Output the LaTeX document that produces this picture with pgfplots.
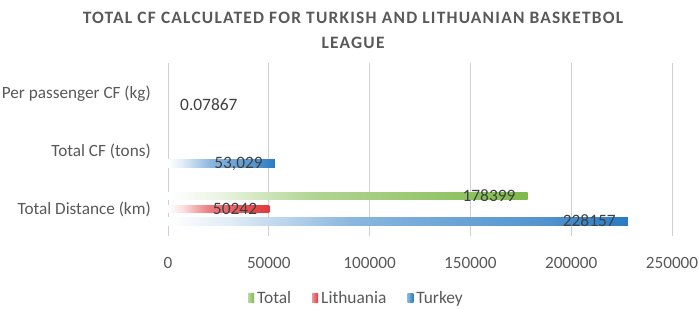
\documentclass[border=0pt]{standalone}
\usepackage{fontspec}
\setmainfont{Carlito}
\newfontfamily\titlefont[LetterSpace=7]{Carlito}
\usepackage{pgfplots}
\pgfplotsset{compat=1.18}
\usepackage{pgfplotstable}
\definecolor{cgreen}{HTML}{7DB94A}
\definecolor{cred}{HTML}{E2383D}
\definecolor{cblue}{HTML}{2A7BC4}
\definecolor{titlegray}{HTML}{595959}
\definecolor{labelgray}{HTML}{404040}
\definecolor{gridgray}{HTML}{D0D0D0}
\pgfdeclarehorizontalshading{gshade}{100bp}{color(0bp)=(white); color(25bp)=(white); color(32bp)=(cgreen!15!white); color(45bp)=(cgreen!60!white); color(65bp)=(cgreen!85!white); color(75bp)=(cgreen); color(100bp)=(cgreen)}
\pgfdeclarehorizontalshading{rshade}{100bp}{color(0bp)=(white); color(25bp)=(white); color(32bp)=(cred!15!white); color(45bp)=(cred!65!white); color(65bp)=(cred!90!white); color(75bp)=(cred); color(100bp)=(cred)}
\pgfdeclarehorizontalshading{bshade}{100bp}{color(0bp)=(white); color(25bp)=(white); color(32bp)=(cblue!15!white); color(45bp)=(cblue!55!white); color(65bp)=(cblue!80!white); color(75bp)=(cblue); color(100bp)=(cblue)}

\pgfplotstableread{
x y label
178399 0 178399
}\totaldata
\pgfplotstableread{
x y label
50242 0 50242
}\lithdata
\pgfplotstableread{
x y label
228157 0 228157
}\turkdist
\pgfplotstableread{
x y label
53029 1 53,029
}\turkcf
\pgfplotstableread{
x y label
0.07867 2 0.07867
}\turkpp

\begin{document}
\begin{tikzpicture}
\useasboundingbox (0,0) rectangle (699pt,308pt);
\node[anchor=base, text=titlegray, font=\titlefont\bfseries\fontsize{17.4}{20}\selectfont, inner sep=0pt] at (353pt,{308pt-24pt}) {TOTAL CF CALCULATED FOR TURKISH AND LITHUANIAN BASKETBOL};
\node[anchor=base, text=titlegray, font=\titlefont\bfseries\fontsize{17.4}{20}\selectfont, inner sep=0pt] at (353pt,{308pt-49pt}) {LEAGUE};
\begin{axis}[
  at={(168pt,72pt)}, anchor=south west,
  scale only axis, width=504pt, height=173pt,
  xmin=0, xmax=250000, ymin=-0.466, ymax=2.517,
  xtick={0,50000,100000,150000,200000,250000},
  ytick={0,1,2},
  yticklabels={Total Distance (km), Total CF (tons), Per passenger CF (kg)},
  scaled x ticks=false,
  xticklabel style={/pgf/number format/fixed, /pgf/number format/1000 sep={}, /pgf/number format/assume math mode=true},
  xmajorgrids,
  major grid style={draw=gridgray, line width=0.9pt},
  axis line style={draw=none},
  major tick length=0pt,
  tick label style={font=\fontsize{17.2}{20}\selectfont, text=titlegray, inner sep=0pt},
  xticklabel style={anchor=base, yshift=-32pt},
  yticklabel style={anchor=base east, xshift=-17pt, yshift=-5.5pt},
  xbar, bar width=7.5pt,
  nodes near coords={\pgfplotspointmeta},
  point meta=explicit symbolic,
  every node near coord/.append style={anchor=base east, xshift=-12pt, yshift=-5.5pt, inner sep=0pt, font=\fontsize{17.4}{20}\selectfont, text=labelgray},
  legend style={at={(0.375,-0.36)}, anchor=center, draw=none, fill=none, legend columns=3,
     font=\fontsize{17.4}{20}\selectfont, text=titlegray,
     /tikz/every even column/.append style={column sep=18pt},
     nodes={inner ysep=1.5pt, inner xsep=3pt}},
]
\addplot[draw=none, shading=gshade, bar shift=13pt,
  legend image code/.code={\shade[left color=cgreen!55!white, right color=cgreen, draw=none] (0pt,-4.5pt) rectangle (6pt,4.5pt);}]
  table[x=x, y=y, meta=label] {\totaldata};
\addlegendentry{Total}
\addplot[draw=none, shading=rshade, bar shift=0pt,
  legend image code/.code={\shade[left color=cred!55!white, right color=cred, draw=none] (0pt,-4.5pt) rectangle (6pt,4.5pt);}]
  table[x=x, y=y, meta=label] {\lithdata};
\addlegendentry{Lithuania}
\addplot[draw=none, shading=bshade, bar shift=-12.5pt,
  legend image code/.code={\shade[left color=cblue!55!white, right color=cblue, draw=none] (0pt,-4.5pt) rectangle (6pt,4.5pt);}]
  table[x=x, y=y, meta=label] {\turkdist};
\addlegendentry{Turkey}
\addplot[forget plot, draw=none, shading=bshade, bar shift=-12.5pt]
  table[x=x, y=y, meta=label] {\turkcf};
\addplot[forget plot, draw=none, fill=none, bar shift=-12.5pt,
  every node near coord/.append style={anchor=base west, xshift=24pt}]
  table[x=x, y=y, meta=label] {\turkpp};
\end{axis}
\end{tikzpicture}
\end{document}
